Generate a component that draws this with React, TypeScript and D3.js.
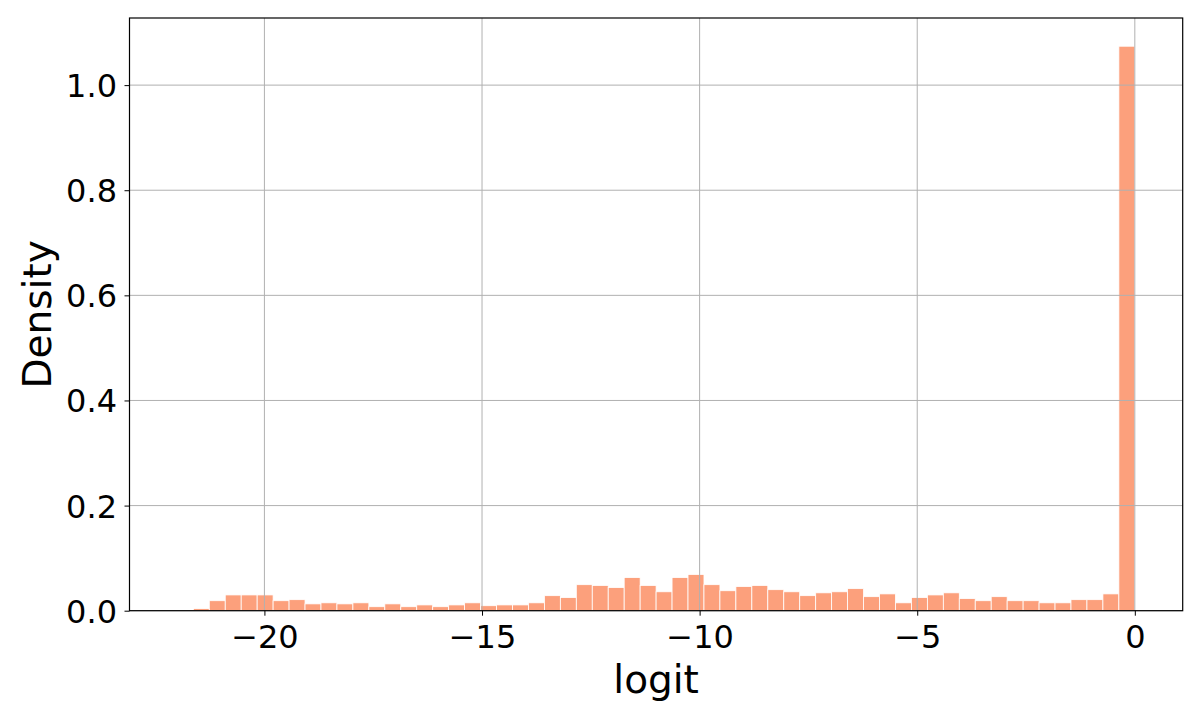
import React, { useEffect, useRef } from "react";
import * as d3 from "d3";

// histogram of logits, 60 equal bins over [-22, 0]
const binLow = -22;
const binHigh = 0;
const density = [
  0, 0.004, 0.019, 0.03, 0.03, 0.03, 0.019, 0.021, 0.013, 0.015, 0.013,
  0.015, 0.0076, 0.013, 0.0076, 0.011, 0.0076, 0.011, 0.015, 0.0095, 0.011,
  0.011, 0.015, 0.0286, 0.025, 0.0495, 0.048, 0.044, 0.063, 0.048, 0.036,
  0.063, 0.069, 0.0495, 0.038, 0.046, 0.048, 0.04, 0.036, 0.0286, 0.034,
  0.036, 0.042, 0.0267, 0.032, 0.015, 0.025, 0.03, 0.034, 0.023, 0.019,
  0.0267, 0.019, 0.019, 0.015, 0.015, 0.021, 0.021, 0.032, 1.074,
];
const xTicks = [-20, -15, -10, -5, 0];
const yTicks = [0, 0.2, 0.4, 0.6, 0.8, 1.0];

const width = 1200;
const height = 720;
const margin = { left: 129.5, right: 17.3, top: 18, bottom: 109.3 };
const font = "DejaVu Sans";

export default function App() {
  const ref = useRef<SVGSVGElement>(null);

  useEffect(() => {
    const svg = d3.select(ref.current);
    svg.selectAll("*").remove();

    const left = margin.left;
    const right = width - margin.right;
    const top = margin.top;
    const bottom = height - margin.bottom;

    const span = binHigh - binLow;
    const pad = span * 0.05;
    const xScale = d3
      .scaleLinear()
      .domain([binLow - pad, binHigh + pad])
      .range([left, right]);
    const yMax = d3.max(density) * 1.05;
    const yScale = d3.scaleLinear().domain([0, yMax]).range([bottom, top]);

    const binW = span / density.length;
    const bins = density.map((d, i) => ({
      x0: binLow + i * binW,
      x1: binLow + (i + 1) * binW,
      value: d,
    }));

    svg
      .append("g")
      .selectAll("rect")
      .data(bins.filter((b) => b.value > 0))
      .enter()
      .append("rect")
      .attr("x", (d) => xScale(d.x0))
      .attr("y", (d) => yScale(d.value))
      .attr("width", (d) => xScale(d.x1) - xScale(d.x0))
      .attr("height", (d) => yScale(0) - yScale(d.value))
      .attr("fill", "#fca07c")
      .attr("stroke", "#ffffff")
      .attr("stroke-width", 0.8);

    // grid sits above the bars, like matplotlib's default
    const grid = svg.append("g").attr("stroke", "#b0b0b0").attr("stroke-width", 1);
    grid
      .selectAll("line.gx")
      .data(xTicks)
      .enter()
      .append("line")
      .attr("x1", (d) => xScale(d))
      .attr("x2", (d) => xScale(d))
      .attr("y1", top)
      .attr("y2", bottom);
    grid
      .selectAll("line.gy")
      .data(yTicks)
      .enter()
      .append("line")
      .attr("x1", left)
      .attr("x2", right)
      .attr("y1", (d) => yScale(d))
      .attr("y2", (d) => yScale(d));

    const xAxis = d3
      .axisBottom(xScale)
      .tickValues(xTicks)
      .tickSize(5)
      .tickPadding(9.6)
      .tickFormat((d) => d3.format("d")(d as number).replace("-", "\u2212"));
    const gx = svg.append("g").attr("transform", `translate(0, ${bottom})`).call(xAxis);
    gx.select(".domain").remove();
    gx.selectAll("line").attr("stroke", "#000").attr("stroke-width", 1);
    gx.selectAll("text")
      .attr("font-family", font)
      .attr("font-size", 32)
      .attr("fill", "#000");

    const yAxis = d3
      .axisLeft(yScale)
      .tickValues(yTicks)
      .tickSize(5)
      .tickPadding(7.5)
      .tickFormat(d3.format(".1f"));
    const gy = svg.append("g").attr("transform", `translate(${left}, 0)`).call(yAxis);
    gy.select(".domain").remove();
    gy.selectAll("line").attr("stroke", "#000").attr("stroke-width", 1);
    gy.selectAll("text")
      .attr("font-family", font)
      .attr("font-size", 32)
      .attr("dy", "0.36em")
      .attr("fill", "#000");

    // frame
    svg
      .append("rect")
      .attr("x", left)
      .attr("y", top)
      .attr("width", right - left)
      .attr("height", bottom - top)
      .attr("fill", "none")
      .attr("stroke", "#000")
      .attr("stroke-width", 1.2);

    svg
      .append("text")
      .attr("x", (left + right) / 2)
      .attr("y", 693)
      .attr("text-anchor", "middle")
      .attr("font-family", font)
      .attr("font-size", 39)
      .text("logit");

    svg
      .append("text")
      .attr("transform", `translate(51, ${(top + bottom) / 2}) rotate(-90)`)
      .attr("text-anchor", "middle")
      .attr("font-family", font)
      .attr("font-size", 39)
      .text("Density");
  }, []);

  return (
    <div style={{ position: "absolute", left: 0, top: 0, background: "#fff" }}>
      <svg ref={ref} width={width} height={height} style={{ display: "block" }}></svg>
    </div>
  );
}
